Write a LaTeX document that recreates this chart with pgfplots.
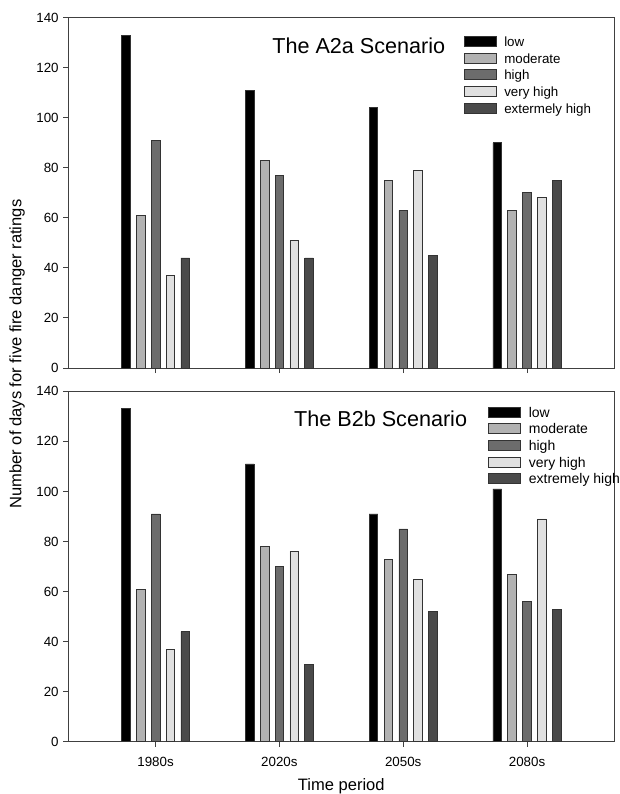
\documentclass[border=0pt]{standalone}
\usepackage{fontspec}
\setmainfont{Liberation Sans}
\usepackage{pgfplots}
\pgfplotsset{compat=1.18}
\definecolor{cLow}{HTML}{000000}
\definecolor{cMod}{HTML}{B2B2B2}
\definecolor{cHigh}{HTML}{6C6C6C}
\definecolor{cVH}{HTML}{E0E0E0}
\definecolor{cExt}{HTML}{4A4A4A}
\definecolor{cEdge}{HTML}{333333}
\definecolor{cAxis}{HTML}{404040}
\pgfplotsset{
  panel/.style={
    width=409.5pt, height=262.8pt, scale only axis,
    xmin=-0.705, xmax=3.705, ymin=0, ymax=140,
    ytick={0,20,...,140}, xtick={0,1,2,3},
    tick pos=left, tick align=outside, major tick length=3.75pt,
    axis line style={cAxis, line width=0.75pt},
    every tick/.style={cAxis, line width=0.75pt},
    ticklabel style={font=\fontsize{10}{12}\selectfont},
    xticklabel style={yshift=-4pt},
    /pgf/number format/assume math mode=true,
    ybar, bar width=0.07,
    legend cell align=left,
    legend style={draw=none, fill=none, inner sep=0pt, outer sep=0pt,
      font=\fontsize{10}{12}\selectfont, row sep=2pt,
      nodes={inner sep=0pt, text height=8pt, text depth=2.5pt},
      /tikz/column 1/.style={column sep=6pt}},
  },
  bars/.style={fill=#1, draw=cEdge, line width=0.5pt,
    legend image code/.code={\draw[##1] (0pt,-2.6pt) rectangle (24pt,4.9pt);}},
}
\begin{document}
\begin{tikzpicture}
\path[use as bounding box] (0pt,0pt) rectangle (465pt,-595.5pt);
% top panel
\begin{axis}[panel, at={(51.225pt,-276pt)}, anchor=south west, xticklabels={},
  legend style={at={(0.724,0.948)}, anchor=north west}]
\addplot[bars=cLow, bar shift=-0.24] coordinates {(0,133) (1,111) (2,104) (3,90)};
\addplot[bars=cMod, bar shift=-0.12] coordinates {(0,61) (1,83) (2,75) (3,63)};
\addplot[bars=cHigh, bar shift=0] coordinates {(0,91) (1,77) (2,63) (3,70)};
\addplot[bars=cVH, bar shift=0.12] coordinates {(0,37) (1,51) (2,79) (3,68)};
\addplot[bars=cExt, bar shift=0.24] coordinates {(0,44) (1,44) (2,45) (3,75)};
\legend{low, moderate, high, very high, extermely high}
\node[font=\fontsize{16.2}{19}\selectfont, anchor=center] at (rel axis cs:0.532,0.920) {The A2a Scenario};
\end{axis}
% bottom panel
\begin{axis}[panel, at={(51.225pt,-556.275pt)}, anchor=south west,
  xticklabels={1980s,2020s,2050s,2080s},
  legend style={at={(0.769,0.957)}, anchor=north west, font=\fontsize{10.5}{12}\selectfont}]
\addplot[bars=cLow, bar shift=-0.24] coordinates {(0,133) (1,111) (2,91) (3,101)};
\addplot[bars=cMod, bar shift=-0.12] coordinates {(0,61) (1,78) (2,73) (3,67)};
\addplot[bars=cHigh, bar shift=0] coordinates {(0,91) (1,70) (2,85) (3,56)};
\addplot[bars=cVH, bar shift=0.12] coordinates {(0,37) (1,76) (2,65) (3,89)};
\addplot[bars=cExt, bar shift=0.24] coordinates {(0,44) (1,31) (2,52) (3,53)};
\legend{low, moderate, high, very high, extremely high}
\node[font=\fontsize{16.2}{19}\selectfont, anchor=center] at (rel axis cs:0.572,0.923) {The B2b Scenario};
\end{axis}
\node[rotate=90, font=\fontsize{12.4}{15}\selectfont] at (12.75pt,-265.5pt) {Number of days for five fire danger ratings};
\node[font=\fontsize{12.4}{15}\selectfont] at (255.975pt,-590pt) {Time period};
\end{tikzpicture}
\end{document}
